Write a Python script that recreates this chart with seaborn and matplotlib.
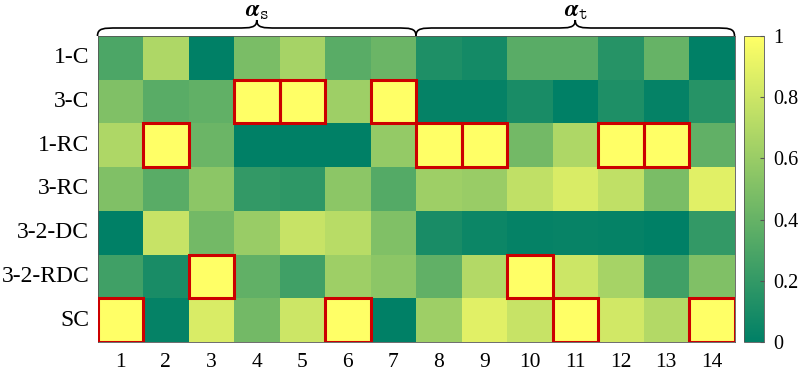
import numpy as np
import pandas as pd
import matplotlib
matplotlib.use("Agg")
import matplotlib.pyplot as plt
import seaborn as sns
from matplotlib.path import Path
from matplotlib.patches import PathPatch, Rectangle
import matplotlib.transforms as mtransforms

rows = ["1-C", "3-C", "1-RC", "3-RC", "3-2-DC", "3-2-RDC", "SC"]
cols = [str(i) for i in range(1, 15)]

v_1C     = [0.30, 0.68, 0.00, 0.48, 0.65, 0.35, 0.42, 0.12, 0.08, 0.35, 0.35, 0.15, 0.40, 0.00]
v_3C     = [0.50, 0.35, 0.38, 1.00, 1.00, 0.62, 1.00, 0.02, 0.02, 0.10, 0.00, 0.12, 0.02, 0.15]
v_1RC    = [0.68, 1.00, 0.42, 0.00, 0.00, 0.00, 0.58, 1.00, 1.00, 0.45, 0.68, 1.00, 1.00, 0.38]
v_3RC    = [0.50, 0.35, 0.55, 0.20, 0.18, 0.55, 0.33, 0.62, 0.60, 0.75, 0.85, 0.75, 0.48, 0.88]
v_32DC   = [0.00, 0.78, 0.45, 0.60, 0.78, 0.72, 0.50, 0.10, 0.05, 0.02, 0.03, 0.02, 0.00, 0.20]
v_32RDC  = [0.25, 0.10, 1.00, 0.38, 0.25, 0.62, 0.55, 0.38, 0.70, 1.00, 0.80, 0.65, 0.25, 0.50]
v_SC     = [1.00, 0.02, 0.85, 0.45, 0.80, 1.00, 0.00, 0.62, 0.88, 0.78, 1.00, 0.82, 0.70, 1.00]

group_labels = [r"$\boldsymbol{\alpha}_{\mathtt{s}}$", r"$\boldsymbol{\alpha}_{\mathtt{t}}$"]
group_spans = [(0, 7), (7, 14)]

data = pd.DataFrame([v_1C, v_3C, v_1RC, v_3RC, v_32DC, v_32RDC, v_SC], index=rows, columns=cols)

plt.rcParams["font.family"] = ["Liberation Serif", "DejaVu Serif"]
plt.rcParams["mathtext.fontset"] = "stix"

W, H = 798, 373
fig = plt.figure(figsize=(W / 100, H / 100), dpi=100)
ax = fig.add_axes([97.5 / W, 1 - 342 / H, (734.5 - 97.5) / W, (342 - 36) / H])
cax = fig.add_axes([744 / W, 1 - 342 / H, (763.5 - 744) / W, (342 - 36) / H])

sns.heatmap(data, ax=ax, cbar_ax=cax, cmap="summer", vmin=0, vmax=1,
            cbar_kws={"ticks": [0, 0.2, 0.4, 0.6, 0.8, 1]})

ax.set_xticklabels(cols, rotation=0, fontsize=15.5)
ax.set_yticklabels(rows, rotation=0, fontsize=17)
ax.tick_params(axis="y", length=0, pad=6)
ax.tick_params(axis="x", length=0, pad=8)
for s in ax.spines.values():
    s.set_visible(True)
    s.set_linewidth(0.6)
    s.set_color("#555555")

# red boxes around column maxima
arr = data.values
for j in range(arr.shape[1]):
    i = int(np.argmax(arr[:, j]))
    ax.add_patch(Rectangle((j, i), 1, 1, fill=False, edgecolor="#cc0000", linewidth=2.2, zorder=5))

# colorbar styling
cax.tick_params(direction="in", length=3, labelsize=14.5, pad=7, color="#555555")
cax.set_yticklabels(["0", "0.2", "0.4", "0.6", "0.8", "1"])
cbar = ax.collections[0].colorbar
cbar.outline.set_linewidth(0.6)
cbar.outline.set_edgecolor("#555555")

# braces
trans = mtransforms.blended_transform_factory(ax.transData, ax.transAxes)
y0 = 1.0
yh = 1.0 + 8 / 306
yp = 1.0 + 16 / 306
r = 0.45
for (x0, x1), lab in zip(group_spans, group_labels):
    xm = (x0 + x1) / 2
    verts = [
        (x0, y0),
        (x0, yh), (x0 + r * 0.3, yh), (x0 + r, yh),
        (xm - r, yh),
        (xm - r * 0.3, yh), (xm, yh), (xm, yp),
        (xm, yh), (xm + r * 0.3, yh), (xm + r, yh),
        (x1 - r, yh),
        (x1 - r * 0.3, yh), (x1, yh), (x1, y0),
    ]
    codes = [Path.MOVETO,
             Path.CURVE4, Path.CURVE4, Path.CURVE4,
             Path.LINETO,
             Path.CURVE4, Path.CURVE4, Path.CURVE4,
             Path.CURVE4, Path.CURVE4, Path.CURVE4,
             Path.LINETO,
             Path.CURVE4, Path.CURVE4, Path.CURVE4]
    ax.add_patch(PathPatch(Path(verts, codes), transform=trans, fill=False,
                           edgecolor="black", linewidth=1.2, clip_on=False))
    ax.text(xm, 1.0 + 24 / 306, lab, transform=trans, ha="center", va="center", fontsize=17)

fig.savefig("out.png", dpi=100)
